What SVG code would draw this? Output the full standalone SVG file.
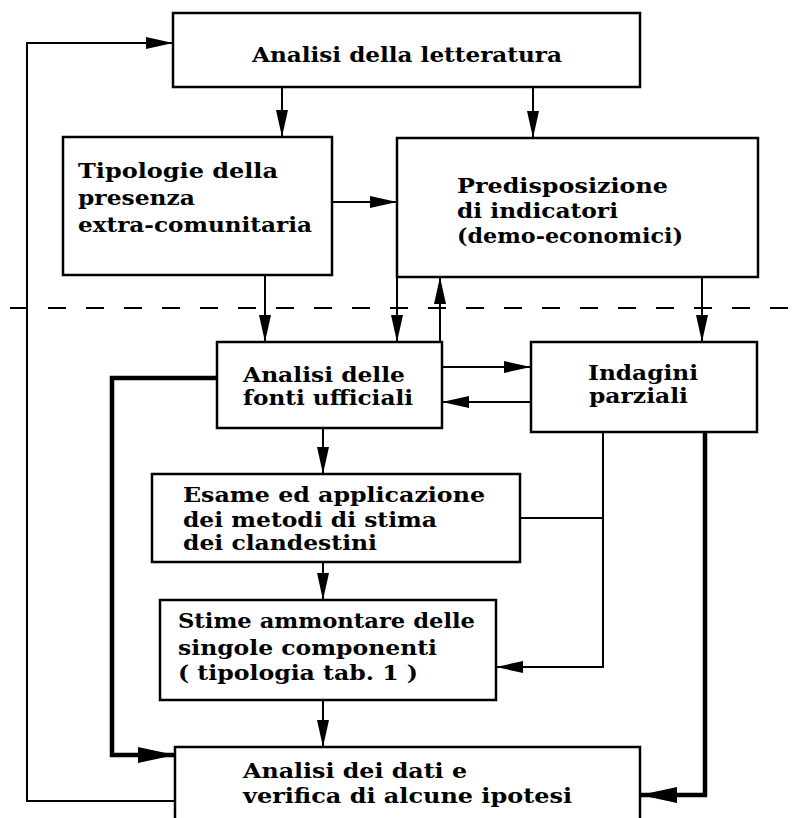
<svg xmlns="http://www.w3.org/2000/svg" width="794" height="818" viewBox="0 0 794 818">
<style>
  .box { fill: #fff; stroke: #000; stroke-width: 2.5; }
  .t { font-family: "DejaVu Serif", "Liberation Serif", serif; font-weight: bold; font-size: 20px; fill: #000; }
  .c { fill: none; stroke: #000; stroke-width: 2; }
  .ca { fill: none; stroke: #000; stroke-width: 2; marker-end: url(#ah); }
  .thick { fill: none; stroke: #000; stroke-width: 4.5; marker-end: url(#ahb); }
  .dash { stroke: #000; stroke-width: 2; stroke-dasharray: 18 20; }
</style>
<defs>
  <marker id="ah" markerUnits="userSpaceOnUse" markerWidth="28" markerHeight="14" refX="27" refY="7" orient="auto">
    <path d="M0,1 L27,7 L0,13 Z" fill="#000"/>
  </marker>
  <marker id="ahb" markerUnits="userSpaceOnUse" markerWidth="38" markerHeight="18" refX="37" refY="9" orient="auto">
    <path d="M0,1 L37,9 L0,17 Z" fill="#000"/>
  </marker>
</defs>
<rect width="794" height="818" fill="#fff"/>

<line class="dash" x1="10" y1="308" x2="794" y2="308"/>

<g id="connectors">
  <polyline class="ca" points="175,801 27,801 27,43 173,43"/>
  <line class="ca" x1="282" y1="87" x2="282" y2="137"/>
  <line class="ca" x1="533" y1="87" x2="533" y2="138"/>
  <line class="ca" x1="332" y1="202" x2="397" y2="202"/>
  <line class="ca" x1="265" y1="275" x2="265" y2="342"/>
  <line class="ca" x1="397" y1="277" x2="397" y2="342"/>
  <line class="ca" x1="440" y1="342" x2="440" y2="277"/>
  <line class="ca" x1="702" y1="277" x2="702" y2="342"/>
  <line class="ca" x1="442" y1="367" x2="531" y2="367"/>
  <line class="ca" x1="531" y1="402" x2="442" y2="402"/>
  <line class="ca" x1="323" y1="428" x2="323" y2="474"/>
  <line class="ca" x1="323" y1="562" x2="323" y2="600"/>
  <line class="ca" x1="323" y1="700" x2="323" y2="747"/>
  <polyline class="ca" points="603,432 603,667 496,667"/>
  <line class="c" x1="520" y1="518" x2="603" y2="518"/>
  <polyline class="thick" points="217,378 112,378 112,755 175,755"/>
  <polyline class="thick" points="705,432 705,795 640,795"/>
</g>

<g id="n1">
  <rect class="box" x="173" y="13" width="467" height="74"/>
  <text class="t" x="252" y="62" textLength="310" lengthAdjust="spacingAndGlyphs">Analisi della letteratura</text>
</g>
<g id="n2">
  <rect class="box" x="63" y="137" width="269" height="138"/>
  <text class="t" x="78" y="178" textLength="200" lengthAdjust="spacingAndGlyphs">Tipologie della</text>
  <text class="t" x="78" y="205" textLength="117" lengthAdjust="spacingAndGlyphs">presenza</text>
  <text class="t" x="78" y="232" textLength="234" lengthAdjust="spacingAndGlyphs">extra-comunitaria</text>
</g>
<g id="n3">
  <rect class="box" x="397" y="138" width="361" height="139"/>
  <text class="t" x="457" y="193" textLength="211" lengthAdjust="spacingAndGlyphs">Predisposizione</text>
  <text class="t" x="457" y="218" textLength="161" lengthAdjust="spacingAndGlyphs">di indicatori</text>
  <text class="t" x="457" y="243" textLength="226" lengthAdjust="spacingAndGlyphs">(demo-economici)</text>
</g>
<g id="n4">
  <rect class="box" x="217" y="342" width="225" height="86"/>
  <text class="t" x="243" y="382" textLength="162" lengthAdjust="spacingAndGlyphs">Analisi delle</text>
  <text class="t" x="243" y="405" textLength="170" lengthAdjust="spacingAndGlyphs">fonti ufficiali</text>
</g>
<g id="n5">
  <rect class="box" x="531" y="342" width="226" height="90"/>
  <text class="t" x="588" y="380" textLength="110" lengthAdjust="spacingAndGlyphs">Indagini</text>
  <text class="t" x="589" y="403" textLength="99" lengthAdjust="spacingAndGlyphs">parziali</text>
</g>
<g id="n6">
  <rect class="box" x="152" y="474" width="368" height="88"/>
  <text class="t" x="183" y="502" textLength="302" lengthAdjust="spacingAndGlyphs">Esame ed applicazione</text>
  <text class="t" x="183" y="527" textLength="254" lengthAdjust="spacingAndGlyphs">dei metodi di stima</text>
  <text class="t" x="183" y="550" textLength="194" lengthAdjust="spacingAndGlyphs">dei clandestini</text>
</g>
<g id="n7">
  <rect class="box" x="160" y="600" width="336" height="100"/>
  <text class="t" x="178" y="628" textLength="297" lengthAdjust="spacingAndGlyphs">Stime ammontare delle</text>
  <text class="t" x="178" y="655" textLength="259" lengthAdjust="spacingAndGlyphs">singole componenti</text>
  <text class="t" x="178" y="680" textLength="240" lengthAdjust="spacingAndGlyphs">( tipologia tab. 1 )</text>
</g>
<g id="n8">
  <rect class="box" x="175" y="747" width="465" height="90"/>
  <text class="t" x="243" y="778" textLength="224" lengthAdjust="spacingAndGlyphs">Analisi dei dati e</text>
  <text class="t" x="243" y="803" textLength="329" lengthAdjust="spacingAndGlyphs">verifica di alcune ipotesi</text>
</g>
</svg>
